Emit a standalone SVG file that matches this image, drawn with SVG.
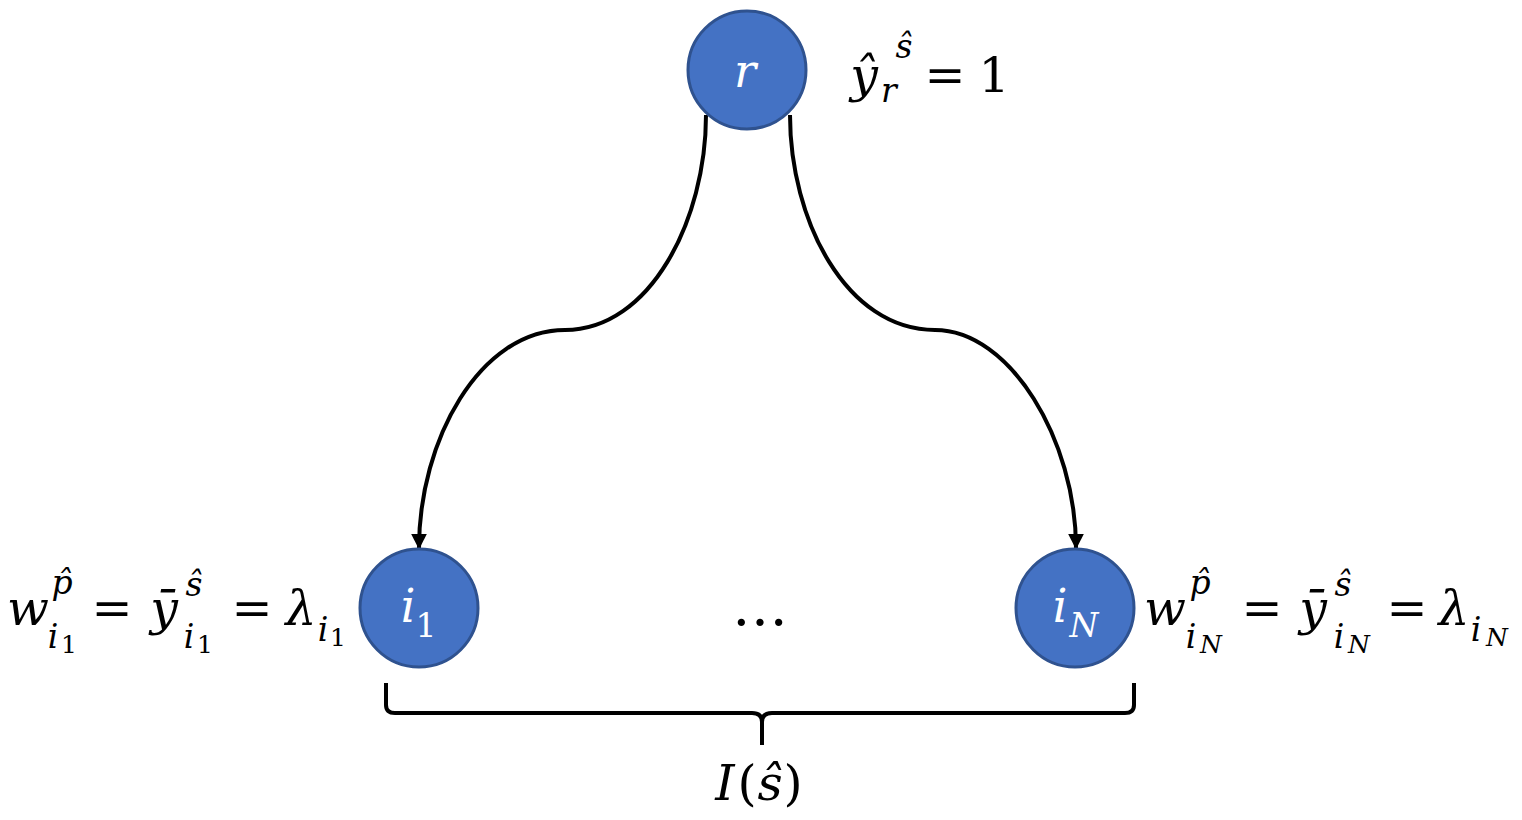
<svg xmlns="http://www.w3.org/2000/svg" width="1522" height="820" viewBox="0 0 1522 820">
<defs>
<style>
.node{fill:#4472C4;stroke:#2F528F;stroke-width:3}
.edge{fill:none;stroke:#000;stroke-width:4}
text{font-family:"DejaVu Serif","Liberation Serif",serif;fill:#000;text-anchor:middle}
.m{font-style:italic}
.n{font-style:normal}
.w{fill:#fff}
.b{font-size:49px}
.s{font-size:33px}
.ss{font-size:25px}
</style>
<marker id="arr" viewBox="0 0 10 10" refX="9" refY="5" markerWidth="4" markerHeight="4" orient="auto" markerUnits="strokeWidth">
<path d="M0,0 L10,5 L0,10 z" fill="#000"/>
</marker>
</defs>
<rect width="1522" height="820" fill="#fff"/>
<g id="connectors">
<path class="edge" d="M706,115 C706,220 650,330 565,330 C480,330 419,440 419,548" marker-end="url(#arr)"/>
<path class="edge" d="M790,115 C790,220 846,330 935,330 C1010,330 1076,440 1076,548" marker-end="url(#arr)"/>
<path class="edge" d="M386,683 L386,705 Q386,713 395,713 L752,713 Q762,713 762,722 L762,745 M762,722 Q762,713 772,713 L1125,713 Q1134,713 1134,705 L1134,683"/>
</g>
<g id="node-r">
<circle class="node" cx="747" cy="70" r="59"/>
<text class="m w" x="745" y="87" font-size="46">r</text>
</g>
<g id="node-i1">
<circle class="node" cx="419" cy="608" r="59"/>
<text class="m w" x="408" y="622" font-size="46">i</text>
<text class="n w" x="426" y="637" font-size="33">1</text>
</g>
<g id="node-iN">
<circle class="node" cx="1075" cy="608" r="59"/>
<text class="m w" x="1060" y="622" font-size="46">i</text>
<text class="m w" x="1084" y="637" font-size="33">N</text>
</g>
<g id="label-r">
<text class="m b" x="864" y="92">ŷ</text>
<text class="m s" x="904" y="58">ŝ</text>
<text class="m s" x="889" y="102">r</text>
<text class="n b" x="945" y="92">=</text>
<text class="n b" x="994" y="92">1</text>
</g>
<g id="label-i1">
<text class="m b" x="28" y="625">w</text>
<text class="m s" x="62" y="594">p̂</text>
<text class="m s" x="53" y="648">i</text>
<text class="n ss" x="69" y="653">1</text>
<text class="n b" x="112" y="625">=</text>
<text class="m b" x="164" y="625">ȳ</text>
<text class="m s" x="194" y="596">ŝ</text>
<text class="m s" x="189" y="648">i</text>
<text class="n ss" x="205" y="653">1</text>
<text class="n b" x="252" y="625">=</text>
<text class="m b" x="301" y="625">λ</text>
<text class="m s" x="323" y="641">i</text>
<text class="n ss" x="338" y="646">1</text>
</g>
<g id="label-iN">
<text class="m b" x="1165" y="625">w</text>
<text class="m s" x="1200" y="594">p̂</text>
<text class="m s" x="1191" y="648">i</text>
<text class="m ss" x="1211" y="653">N</text>
<text class="n b" x="1262" y="625">=</text>
<text class="m b" x="1313" y="625">ȳ</text>
<text class="m s" x="1343" y="596">ŝ</text>
<text class="m s" x="1339" y="648">i</text>
<text class="m ss" x="1359" y="653">N</text>
<text class="n b" x="1407" y="625">=</text>
<text class="m b" x="1454" y="625">λ</text>
<text class="m s" x="1476" y="641">i</text>
<text class="m ss" x="1497" y="646">N</text>
</g>
<g id="ellipsis">
<text class="n" x="760" y="625" font-size="56">…</text>
</g>
<g id="label-brace">
<text class="m b" x="725" y="800">I</text>
<text class="n b" x="747" y="800">(</text>
<text class="m b" x="770" y="800">ŝ</text>
<text class="n b" x="793" y="800">)</text>
</g>
</svg>
